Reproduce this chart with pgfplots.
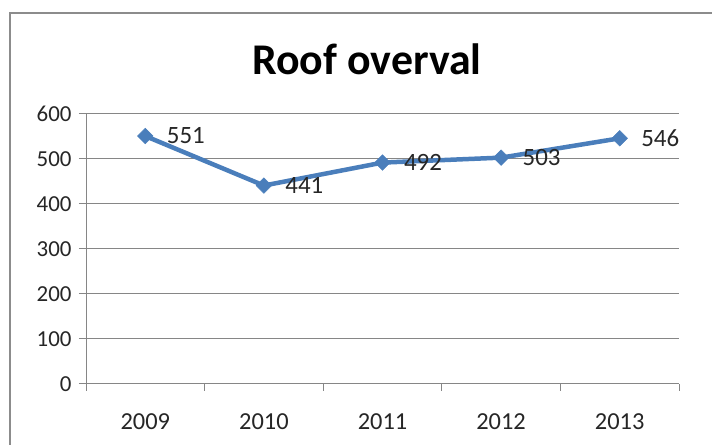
\documentclass[border=0pt]{standalone}
\usepackage{pgfplots}
\pgfplotsset{compat=1.18}
\usepackage{fontspec}
\setmainfont{Carlito}
\definecolor{ser}{HTML}{4A7EBB}
\definecolor{gridc}{HTML}{868686}
\definecolor{framec}{HTML}{8C8C8C}
\begin{document}
\begin{tikzpicture}[x=1bp,y=1bp]
\draw[framec, line width=2bp] (-76,-100) rectangle (720,371);
\node[anchor=base, font=\fontsize{44}{44}\selectfont\bfseries] at (281,309) {Roof overval};
\begin{axis}[at={(0,0)}, anchor=south west, scale only axis,
  width=593bp, height=270bp,
  xmin=0, xmax=5, ymin=0, ymax=600,
  axis lines*=left,
  axis line style={draw=gridc, line width=1bp},
  ytick={0,100,...,600},
  xtick={0.5,1.5,2.5,3.5,4.5},
  xticklabels={2009,2010,2011,2012,2013},
  minor xtick={0,1,2,3,4,5},
  tick align=outside,
  major tick length=7bp,
  minor tick length=7bp,
  x tick style={draw=none},
  minor x tick style={draw=gridc, line width=1bp},
  y tick style={draw=gridc, line width=1bp},
  ymajorgrids, major grid style={draw=gridc, line width=1bp},
  /pgf/number format/assume math mode=true,
  yticklabel style={font=\fontsize{23}{23}\selectfont, text=black!85, xshift=-4bp},
  xticklabel style={font=\fontsize{24.5}{24.5}\selectfont, text=black!85, yshift=-19bp},
  clip=false,
]
\addplot[ser, line width=4.5bp, mark=square*, mark size=5.5bp,
  mark options={rotate=45, fill=ser, draw=ser, line width=0.5bp},
  nodes near coords,
  nodes near coords style={anchor=west, xshift=18bp, font=\fontsize{25}{25}\selectfont, text=black!85},
  ] coordinates {(0.5,551) (1.5,441) (2.5,492) (3.5,503) (4.5,546)};
\end{axis}
\pgfresetboundingbox
\useasboundingbox (-86,-61) rectangle (626,384);
\end{tikzpicture}
\end{document}
